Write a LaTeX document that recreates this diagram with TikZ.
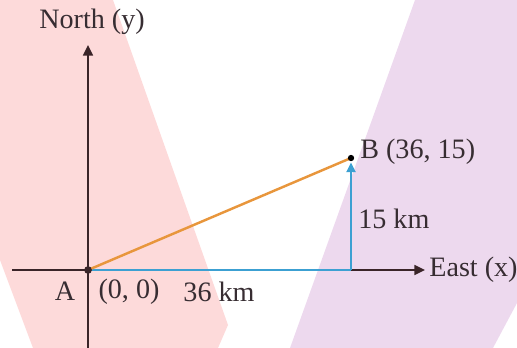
\documentclass[tikz,border=0pt]{standalone}
\usepackage{fontspec}
\setmainfont{Liberation Serif}
\usetikzlibrary{arrows.meta}
\definecolor{bandpink}{RGB}{253,218,218}
\definecolor{bandpurple}{RGB}{237,217,238}
\definecolor{axisink}{RGB}{58,36,40}
\definecolor{legblue}{RGB}{60,160,210}
\definecolor{legorange}{RGB}{232,150,60}
\definecolor{txt}{RGB}{55,45,50}

\begin{document}
\begin{tikzpicture}[x=0.02cm,y=-0.02cm,>={Triangle[length=6pt,width=5.5pt]},
  lbl/.style={text=txt,inner sep=0pt,font=\fontsize{16}{19}\selectfont},
  axis/.style={line width=1.2pt,draw=axisink},
  leg/.style={line width=1.4pt}]
  \useasboundingbox (0,0) rectangle (517,348);
  % background bands
  \fill[bandpink] (0,0) -- (113,0) -- (228,325) -- (218,348) -- (33,348) -- (0,260) -- cycle;
  \fill[bandpurple] (415,0) -- (517,0) -- (517,303) -- (493,348) -- (290,348) -- cycle;
  % points
  \coordinate (A) at (88,270);
  \coordinate (B) at (351,158);
  \coordinate (Bx) at (351,270);
  \coordinate (xs) at (12,270); \coordinate (xe) at (425,270);
  \coordinate (ys) at (88,348); \coordinate (ye) at (88,45);
  % axes
  \draw[axis,->] (xs) -- (xe);
  \draw[axis,->] (ys) -- (ye);
  % displacement components and resultant
  \draw[leg,legblue] (A) -- (Bx);
  \draw[leg,legblue,->,>={Triangle[length=5.5pt,width=5pt]},shorten >=2.5pt] (Bx) -- (B);
  \draw[leg,legorange] (A) -- (B);
  \fill[axisink] (A) circle (2.2pt);
  \fill[black] (B) circle (1.8pt);
  % labels
  \node[lbl] (north) at (92,22) {North (y)};
  \node[lbl,anchor=west] (east) at (429,270) {East (x)};
  \node[lbl] (lA) at (65,291) {A};
  \node[lbl] (lO) at (129,292) {(0, 0)};
  \node[lbl] (l36) at (219,292) {36 km};
  \node[lbl,anchor=west] (l15) at (358,219) {15 km};
  \node[lbl,anchor=west] (lB) at (360,152) {B (36, 15)};
\end{tikzpicture}
\end{document}
